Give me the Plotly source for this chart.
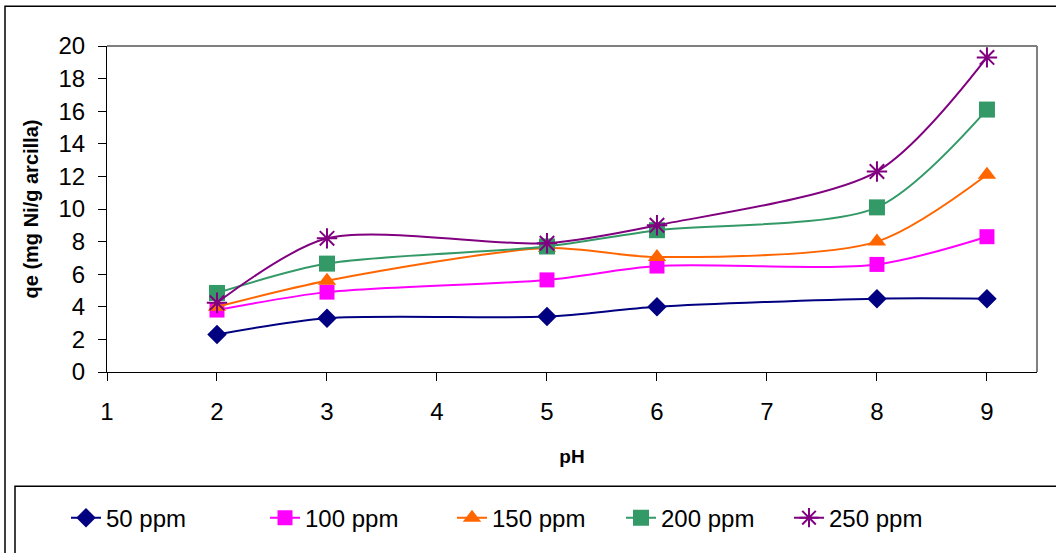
import plotly.graph_objects as go

ph = [2, 3, 5, 6, 8, 9]
series_names = ["50 ppm", "100 ppm", "150 ppm", "200 ppm", "250 ppm"]
q50 = [2.3, 3.3, 3.4, 4.0, 4.5, 4.5]
q100 = [3.8, 4.9, 5.65, 6.5, 6.6, 8.3]
q150 = [4.0, 5.6, 7.6, 7.05, 8.0, 12.1]
q200 = [4.85, 6.65, 7.7, 8.7, 10.1, 16.1]
q250 = [4.25, 8.2, 7.9, 9.0, 12.3, 19.3]
x_ticks = [1, 2, 3, 4, 5, 6, 7, 8, 9]
y_ticks = [0, 2, 4, 6, 8, 10, 12, 14, 16, 18, 20]

colors = ["#000080", "#FF00FF", "#FF6600", "#339966", "#800080"]
symbols = ["diamond", "square", "triangle-up", "square", "asterisk-open"]
sizes = [15, 15, 16, 16, 17]
values = [q50, q100, q150, q200, q250]

W, H = 1056, 553
L, R, T, B = 107, 1037, 46, 374
pw, ph_ = R - L, B - T

def px(x):
    return (x - L) / pw

def py(y):
    return (B - y) / ph_

FONT = "Liberation Sans, Arial, sans-serif"

fig = go.Figure()
legend_text_x = [106, 305, 492, 661, 829]
legend_names = ["legend", "legend2", "legend3", "legend4", "legend5"]
for i, (name, vals) in enumerate(zip(series_names, values)):
    fig.add_trace(go.Scatter(
        x=ph, y=vals, name=name, mode="lines+markers",
        line=dict(color=colors[i], width=2, shape="spline", smoothing=0.8),
        marker=dict(symbol=symbols[i], size=sizes[i], color=colors[i],
                    line=dict(color=colors[i], width=2 if symbols[i] == "asterisk-open" else 0)),
        legend=legend_names[i],
    ))

legend_layouts = {}
for i, ln in enumerate(legend_names):
    legend_layouts[ln] = dict(
        x=px(legend_text_x[i] - 40), y=py(521), xanchor="left", yanchor="middle",
        xref="paper", yref="paper",
        font=dict(family=FONT, size=24, color="#000000"),
        bgcolor="rgba(0,0,0,0)", borderwidth=0,
    )

fig.update_layout(
    width=W, height=H,
    margin=dict(l=L, r=W - R, t=T, b=H - B),
    paper_bgcolor="white", plot_bgcolor="white",
    font=dict(family=FONT, size=24, color="#000000"),
    showlegend=True,
    **legend_layouts,
    xaxis=dict(
        range=[1, 9.455], tickvals=x_ticks, ticks="outside", ticklen=8, tickwidth=1,
        tickcolor="#000000", showline=True, linecolor="#000000", linewidth=1,
        showgrid=False, zeroline=False, ticklabelstandoff=10,
        tickfont=dict(size=24),
        title=dict(text="<b>pH</b>", font=dict(size=19), standoff=25),
    ),
    yaxis=dict(
        range=[0, 20], tickvals=y_ticks, ticks="outside", ticklen=8, tickwidth=1,
        tickcolor="#000000", showline=True, linecolor="#000000", linewidth=1,
        showgrid=False, zeroline=False, ticklabelstandoff=8,
        tickfont=dict(size=24),
        title=dict(text="<b>qe (mg Ni/g arcilla)</b>", font=dict(size=20), standoff=14),
    ),
    shapes=[
        dict(type="line", xref="paper", yref="paper", x0=0, y0=1, x1=1, y1=1,
             line=dict(color="#808080", width=2)),
        dict(type="line", xref="paper", yref="paper", x0=1, y0=1, x1=1, y1=0,
             line=dict(color="#808080", width=2)),
        dict(type="rect", xref="paper", yref="paper", x0=px(5), y0=py(6), x1=px(1062), y1=py(560),
             line=dict(color="#000000", width=1.5), fillcolor="rgba(0,0,0,0)"),
        dict(type="rect", xref="paper", yref="paper", x0=px(15), y0=py(489), x1=px(1062), y1=py(560),
             line=dict(color="#000000", width=1.5), fillcolor="rgba(0,0,0,0)"),
    ],
)

fig.write_html("out.html", config={"displayModeBar": False},
               post_script="document.body.style.margin='0';document.body.style.overflow='hidden';")
